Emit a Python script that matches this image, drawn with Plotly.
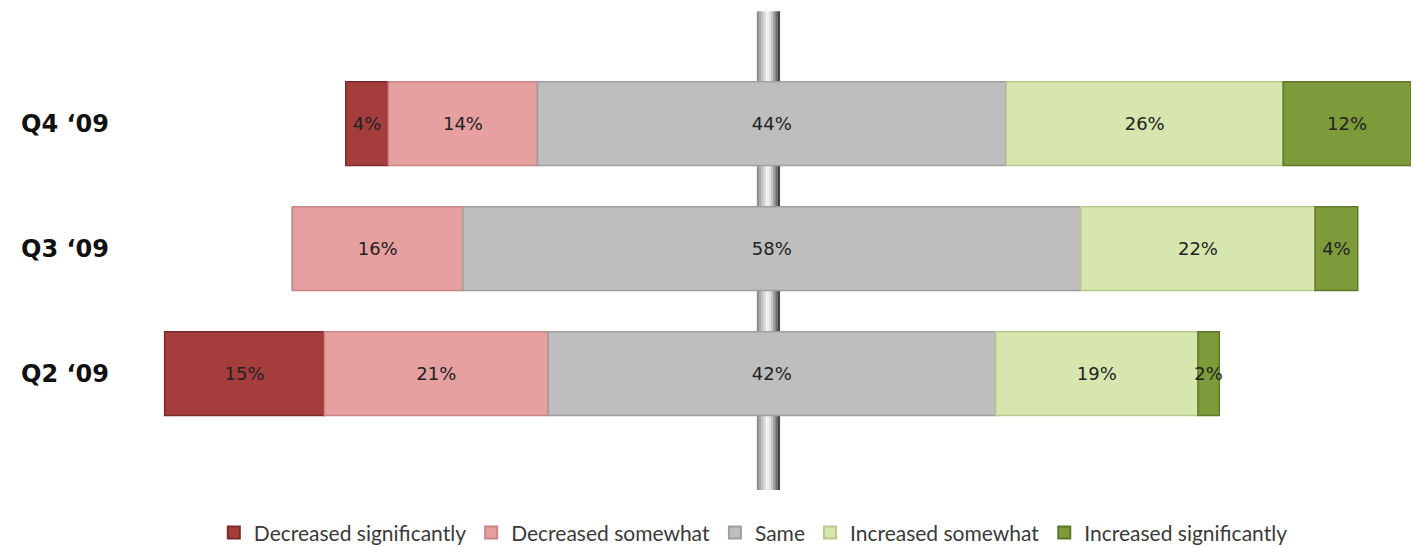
import plotly.graph_objects as go

quarters = ["Q2 ‘09", "Q3 ‘09", "Q4 ‘09"]
series_names = ["Decreased significantly", "Decreased somewhat", "Same",
                "Increased somewhat", "Increased significantly"]
dec_sig = [15, 0, 4]
dec_some = [21, 16, 14]
same = [42, 58, 44]
inc_some = [19, 22, 26]
inc_sig = [2, 4, 12]

colors = ["#A53D3D", "#E6A0A0", "#BEBEBE", "#D6E6AE", "#7E9B3B"]
edge = ["#7A2A2A", "#C98585", "#9E9E9E", "#B8C98E", "#5F7828"]

series = [dec_sig, dec_some, same, inc_some, inc_sig]
# diverging: centre of "Same" at zero
starts = [-(a + b + c / 2) for a, b, c in zip(dec_sig, dec_some, same)]

fig = go.Figure()

# centre pole (gradient cylinder) behind bars
pole_x0, pole_x1 = -1.41, 0.75
stripes = ["#8f8f8f", "#a8a8a8", "#c4c4c4", "#dedede", "#f2f2f2", "#e6e6e6",
           "#c8c8c8", "#a0a0a0", "#6e6e6e", "#444444"]
n = len(stripes)
w = (pole_x1 - pole_x0) / n
for i, c in enumerate(stripes):
    fig.add_shape(type="rect", xref="x", yref="paper",
                  x0=pole_x0 + i * w, x1=pole_x0 + (i + 1) * w + 0.02,
                  y0=-0.144, y1=1.133, fillcolor=c, line_width=0, layer="below")

cum = list(starts)
for name, vals, col, ec in zip(series_names, series, colors, edge):
    texts = [f"{v}%" if v > 0 else "" for v in vals]
    fig.add_trace(go.Bar(
        y=quarters, x=vals, base=cum, orientation="h", name=name,
        marker=dict(color=col, line=dict(color=ec, width=1.5)),
        text=texts, textposition="inside", insidetextanchor="middle",
        textangle=0,
        textfont=dict(family="DejaVu Sans", size=18, color="#222222"),
        cliponaxis=False, width=0.67,
    ))
    cum = [c + v for c, v in zip(cum, vals)]

fig.update_layout(
    barmode="overlay",
    width=1416, height=547,
    margin=dict(l=154, r=5, t=61, b=111, autoexpand=False),
    paper_bgcolor="white", plot_bgcolor="white",
    uniformtext=dict(minsize=18, mode="show"),
    xaxis=dict(range=[-58, 60], visible=False, fixedrange=True),
    yaxis=dict(categoryorder="array", categoryarray=quarters,
               range=[-0.5, 2.5], showgrid=False, zeroline=False,
               showline=False, ticks="", ticklabelstandoff=44,
               tickfont=dict(family="DejaVu Sans", size=24, color="#111111",
                             weight="bold")),
    legend=dict(orientation="h", xref="container", yref="paper",
                x=0.532, xanchor="center", y=-0.313, yanchor="bottom",
                font=dict(family="Lato", size=21, color="#3a3a3a"),
                itemwidth=30, traceorder="normal",
                tracegroupgap=0, itemsizing="constant"),
    showlegend=True,
)

fig.write_html("out.html")
